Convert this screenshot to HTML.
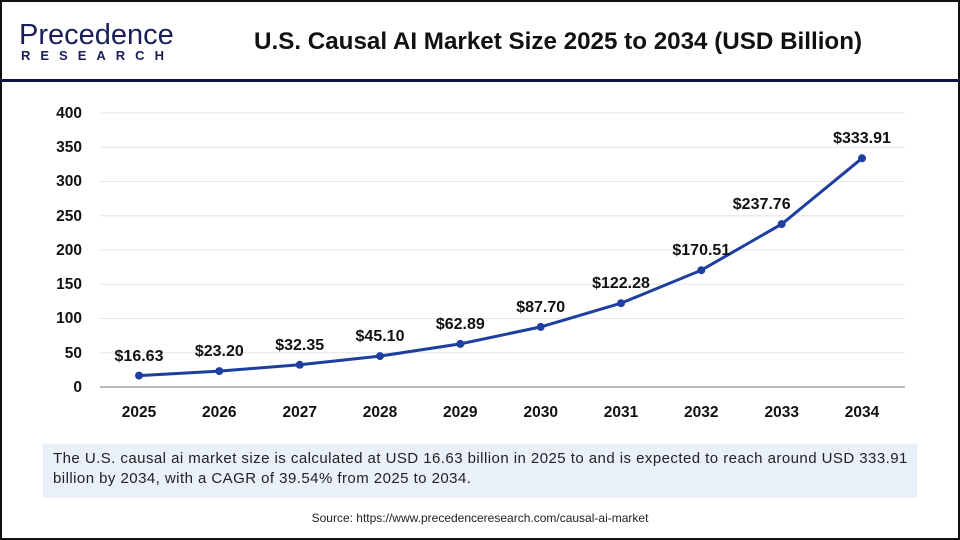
<!DOCTYPE html>
<html><head><meta charset="utf-8"><style>
body{margin:0;width:960px;height:540px;overflow:hidden;background:#fff;font-family:"Liberation Sans",sans-serif}
.frame{position:absolute;left:0;top:0;width:956px;height:536px;border:2px solid #111;}
</style></head><body>
<div class="frame"></div>
<div style="position:absolute;left:0;top:79px;width:960px;height:3px;background:#0f1541"></div>
<div style="position:absolute;left:19px;top:19px;font-size:29px;color:#1a1f5c;letter-spacing:0px">Precedence</div>
<div style="position:absolute;left:21px;top:48px;font-size:13px;color:#1a1f5c;font-weight:bold;letter-spacing:10px">RESEARCH</div>
<div style="position:absolute;left:254px;top:28px;font-size:24.2px;font-weight:bold;color:#111">U.S. Causal AI Market Size 2025 to 2034 (USD Billion)</div>
<svg style="position:absolute;left:0;top:0" width="960" height="540">
<g stroke="#e6e6e6" stroke-width="1">
<line x1="100" x2="905" y1="113" y2="113"/><line x1="100" x2="905" y1="147.25" y2="147.25"/><line x1="100" x2="905" y1="181.5" y2="181.5"/><line x1="100" x2="905" y1="215.75" y2="215.75"/><line x1="100" x2="905" y1="250" y2="250"/><line x1="100" x2="905" y1="284.25" y2="284.25"/><line x1="100" x2="905" y1="318.5" y2="318.5"/><line x1="100" x2="905" y1="352.75" y2="352.75"/>
</g>
<line x1="100" x2="905" y1="387" y2="387" stroke="#bbb" stroke-width="2"/>
<g font-size="15.5" font-weight="bold" fill="#111" text-anchor="end">
<text x="82" y="118">400</text><text x="82" y="152">350</text><text x="82" y="186">300</text><text x="82" y="221">250</text><text x="82" y="255">200</text><text x="82" y="289">150</text><text x="82" y="323">100</text><text x="82" y="358">50</text><text x="82" y="392">0</text>
</g>
<g font-size="15.5" font-weight="bold" fill="#111" text-anchor="middle">
<text x="139" y="417">2025</text><text x="219.3" y="417">2026</text><text x="299.7" y="417">2027</text><text x="380" y="417">2028</text><text x="460.3" y="417">2029</text><text x="540.7" y="417">2030</text><text x="621" y="417">2031</text><text x="701.3" y="417">2032</text><text x="781.7" y="417">2033</text><text x="862" y="417">2034</text>
</g>
<polyline fill="none" stroke="#1e3fa0" stroke-width="3" points="139,375.6 219.3,371.1 299.7,364.8 380,356.1 460.3,343.9 540.7,326.9 621,303.2 701.3,270.2 781.7,224.1 862,158.3"/>
<g fill="#1e3fa0">
<circle cx="139" cy="375.6" r="4"/><circle cx="219.3" cy="371.1" r="4"/><circle cx="299.7" cy="364.8" r="4"/><circle cx="380" cy="356.1" r="4"/><circle cx="460.3" cy="343.9" r="4"/><circle cx="540.7" cy="326.9" r="4"/><circle cx="621" cy="303.2" r="4"/><circle cx="701.3" cy="270.2" r="4"/><circle cx="781.7" cy="224.1" r="4"/><circle cx="862" cy="158.3" r="4"/>
</g>
<g font-size="16" font-weight="bold" fill="#111" text-anchor="middle">
<text x="139" y="361">$16.63</text><text x="219.3" y="356">$23.20</text><text x="299.7" y="350">$32.35</text><text x="380" y="341">$45.10</text><text x="460.3" y="329">$62.89</text><text x="540.7" y="312">$87.70</text><text x="621" y="288">$122.28</text><text x="701.3" y="255">$170.51</text><text x="761.7" y="209">$237.76</text><text x="862" y="143">$333.91</text>
</g>
</svg>
<div style="position:absolute;left:43px;top:444px;width:874px;height:54px;background:#e9f0f9"></div>
<div style="position:absolute;left:53px;top:449px;width:870px;white-space:nowrap;font-size:15px;line-height:20px;color:#222;letter-spacing:0.45px">The U.S. causal ai market size is calculated at USD 16.63 billion in 2025 to and is expected to reach around USD 333.91<br>billion by 2034, with a CAGR of 39.54% from 2025 to 2034.</div>
<div style="position:absolute;left:0;width:960px;top:511px;text-align:center;font-size:12px;color:#222">Source: https://www.precedenceresearch.com/causal-ai-market</div>
</body></html>
